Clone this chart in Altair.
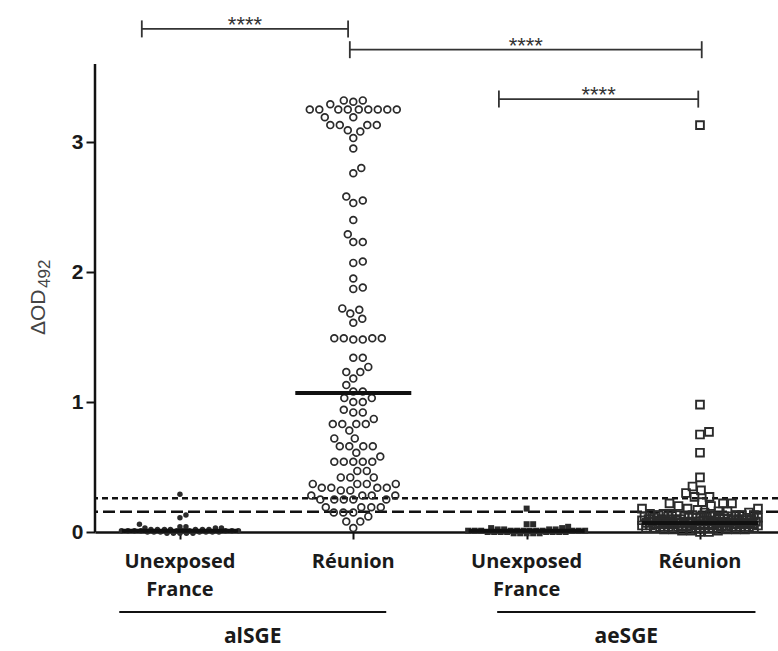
import math
import altair as alt
import pandas as pd

# ---------------- data ----------------
group_names = ["Unexposed France", "Réunion", "Unexposed France", "Réunion"]
group_lines = [["Unexposed", "France"], ["Réunion"], ["Unexposed", "France"], ["Réunion"]]
antigen_names = ["alSGE", "aeSGE"]

alsge_unexposed = [0.29, 0.13, 0.11, 0.06, 0.04, 0.04, 0.03, 0.03, 0.03, 0.02,
                   0.02, 0.02, 0.02, 0.02, 0.02, 0.02, 0.01, 0.01, 0.01, 0.01,
                   0.01, 0.01, 0.01, 0.01, 0.01, 0.01, 0.00, 0.00, 0.00, 0.00,
                   0.00, 0.00, 0.00, -0.01, -0.01, -0.01, -0.01, -0.01]

alsge_reunion = [3.32, 3.32, 3.31, 3.29, 3.25, 3.25, 3.25, 3.25, 3.25, 3.25,
                 3.25, 3.25, 3.25, 3.19, 3.19, 3.13, 3.13, 3.13, 3.13, 3.09,
                 3.08, 3.03, 2.95, 2.80, 2.76, 2.58, 2.55, 2.53, 2.40, 2.29,
                 2.23, 2.23, 2.08, 2.07, 1.95, 1.88, 1.87, 1.72, 1.71, 1.68,
                 1.64, 1.61, 1.49, 1.49, 1.48, 1.49, 1.49, 1.48, 1.34, 1.34,
                 1.27, 1.23, 1.23, 1.18, 1.13, 1.08, 1.08, 1.03, 1.03, 1.00,
                 1.00, 0.94, 0.92, 0.92, 0.87, 0.83, 0.83, 0.83, 0.83, 0.78,
                 0.72, 0.72, 0.66, 0.66, 0.66, 0.66, 0.61, 0.58, 0.54, 0.54,
                 0.54, 0.54, 0.54, 0.47, 0.47, 0.42, 0.42, 0.42, 0.37, 0.37,
                 0.37, 0.37, 0.34, 0.34, 0.34, 0.34, 0.32, 0.32, 0.28, 0.28,
                 0.28, 0.28, 0.25, 0.25, 0.25, 0.25, 0.25, 0.19, 0.19, 0.19,
                 0.19, 0.15, 0.15, 0.15, 0.12, 0.08, 0.08, 0.03]

aesge_unexposed = [0.18, 0.06, 0.06, 0.04, 0.03, 0.03, 0.02, 0.02, 0.02, 0.02,
                   0.01, 0.01, 0.01, 0.01, 0.01, 0.01, 0.01, 0.01, 0.01, 0.01,
                   0.01, 0.01, 0.00, 0.00, 0.00, 0.00, 0.00, 0.00, 0.00, 0.00,
                   -0.01, -0.01, -0.01, -0.01, -0.01]

aesge_reunion = [3.13, 0.98, 0.77, 0.75, 0.61, 0.42, 0.35, 0.32, 0.30, 0.27,
                 0.27, 0.23, 0.22, 0.22, 0.22, 0.20, 0.20, 0.18, 0.18, 0.18,
                 0.17, 0.16, 0.16, 0.15, 0.15, 0.14, 0.14, 0.14,
                 0.13, 0.13, 0.13, 0.13, 0.13, 0.13, 0.13,
                 0.12, 0.12, 0.12, 0.12, 0.12, 0.12, 0.12,
                 0.11, 0.11, 0.11, 0.11, 0.11, 0.11, 0.11,
                 0.10, 0.10, 0.10, 0.10, 0.10, 0.10, 0.10,
                 0.09, 0.09, 0.09, 0.09, 0.09, 0.09, 0.09, 0.09,
                 0.08, 0.08, 0.08, 0.08, 0.08, 0.08, 0.08, 0.08,
                 0.07, 0.07, 0.07, 0.07, 0.07, 0.07, 0.07, 0.07, 0.07,
                 0.06, 0.06, 0.06, 0.06, 0.06, 0.06, 0.06, 0.06, 0.06,
                 0.05, 0.05, 0.05, 0.05, 0.05, 0.05, 0.05, 0.05, 0.05,
                 0.04, 0.04, 0.04, 0.04, 0.04, 0.04, 0.04, 0.04,
                 0.03, 0.03, 0.03, 0.03, 0.03, 0.03,
                 0.02, 0.02, 0.02, 0.02, 0.02,
                 0.01, 0.01, 0.01, 0.00, 0.00]

medians = [0.01, 1.07, 0.01, 0.07]
cutoff_dotted = 0.26
cutoff_dashed = 0.155
significance = ["****", "****", "****"]

# ---------------- layout ----------------
W, H = 683, 520
XDOM = [-0.49, 3.45]
YDOM = [0.0, 4.0]
XPX = W / (XDOM[1] - XDOM[0])
YPX = H / (YDOM[1] - YDOM[0])
INK = "#2b2b2b"


def swarm(values, d, half):
    """simple beeswarm: horizontal offsets (in x units) that avoid overlap"""
    order = sorted(range(len(values)), key=lambda i: values[i])
    cands = [0.0]
    k = 1
    while k * 0.5 <= half:
        cands += [k * 0.5, -k * 0.5]
        k += 1
    placed = []
    offs = [0.0] * len(values)
    for i in order:
        y = values[i] * YPX
        near = [(px, py) for px, py in placed if abs(py - y) < d]
        best, bestd = 0.0, -1.0
        for c in cands:
            md = min((math.hypot(c - px, y - py) for px, py in near), default=1e9)
            if md >= d:
                best = c
                break
            if md > bestd:
                bestd, best = md, c
        placed.append((best, y))
        offs[i] = best / XPX
    return offs


series = [alsge_unexposed, alsge_reunion, aesge_unexposed, aesge_reunion]
spacing = [6.5, 9.5, 6.5, 9.0]
halfw = [60, 50, 60, 58]
frames = []
for g, (vals, d, hw) in enumerate(zip(series, spacing, halfw)):
    offs = swarm(vals, d, hw)
    frames.append(pd.DataFrame({"x": [g + o for o in offs], "y": vals}))

xs = alt.Scale(domain=XDOM, nice=False, zero=False)
ys = alt.Scale(domain=YDOM, nice=False, zero=False)
xaxis = alt.Axis(values=[0, 1, 2, 3], labels=False, ticks=True, tickSize=7,
                 tickWidth=2, tickColor="#111", domainColor="#111",
                 domainWidth=2.5, grid=False, title=None)
yaxis = alt.Axis(values=[0, 1, 2, 3], domain=False, tickSize=9, tickWidth=2,
                 tickColor="#111", labelFont="Liberation Sans", labelFontSize=21,
                 labelFontWeight="bold", labelColor="#1a1a1a", labelPadding=3,
                 grid=False, title=None, format="d")


def X(f="x"):
    return alt.X(f, type="quantitative", scale=xs, axis=xaxis)


def Y(f="y"):
    return alt.Y(f, type="quantitative", scale=ys, axis=yaxis)


layers = []

# reference cut-off lines
layers.append(alt.Chart(pd.DataFrame({"y": [cutoff_dotted]})).mark_rule(
    color="#111", strokeWidth=2.5, strokeDash=[6, 4]).encode(y=Y()))
layers.append(alt.Chart(pd.DataFrame({"y": [cutoff_dashed]})).mark_rule(
    color="#111", strokeWidth=2.5, strokeDash=[12, 5]).encode(y=Y()))

# points
layers.append(alt.Chart(frames[0]).mark_point(
    shape="circle", filled=True, size=30, color=INK, opacity=1).encode(x=X(), y=Y()))
layers.append(alt.Chart(frames[1]).mark_point(
    shape="circle", filled=False, size=46, color=INK, strokeWidth=1.7, opacity=1).encode(x=X(), y=Y()))
layers.append(alt.Chart(frames[2]).mark_point(
    shape="square", filled=True, size=36, color=INK, opacity=1).encode(x=X(), y=Y()))
layers.append(alt.Chart(frames[3]).mark_point(
    shape="square", filled=False, size=60, color=INK, strokeWidth=1.9, opacity=1).encode(x=X(), y=Y()))

# medians
med_half = 58 / XPX
med_df = pd.DataFrame({"x": [g - med_half for g in range(4)],
                       "x2": [g + med_half for g in range(4)],
                       "y": medians})
layers.append(alt.Chart(med_df).mark_rule(color="#111", strokeWidth=4).encode(
    x=X(), x2="x2", y=Y()))

# y axis line (stops below the brackets)
layers.append(alt.Chart(pd.DataFrame({"y": [0.0], "y2": [3.6]})).mark_rule(
    color="#111", strokeWidth=2.5).encode(x=alt.value(0), y=Y(), y2="y2"))

# significance brackets
br = pd.DataFrame({"x": [-0.22, 0.98, 1.84], "x2": [0.97, 3.01, 2.99],
                   "y": [3.87, 3.71, 3.33], "t": significance})
tick_h = 8.5 / YPX
ends = pd.DataFrame({"x": list(br["x"]) + list(br["x2"]),
                     "y": [v - tick_h for v in br["y"]] * 2,
                     "y2": [v + tick_h for v in br["y"]] * 2})
br["xm"] = (br["x"] + br["x2"]) / 2
layers.append(alt.Chart(br).mark_rule(color="#333", strokeWidth=1.8).encode(
    x=X(), x2="x2", y=Y()))
layers.append(alt.Chart(ends).mark_rule(color="#333", strokeWidth=1.8).encode(
    x=X(), y=Y(), y2="y2"))
layers.append(alt.Chart(br).mark_text(
    font="Liberation Sans", fontSize=22, color="#333", baseline="alphabetic",
    align="center", dy=3).encode(x=X("xm"), y=Y(), text="t"))

# category labels
cat_df = pd.DataFrame({"x": [0, 1, 2, 3], "t": group_lines})
layers.append(alt.Chart(cat_df).mark_text(
    font="Open Sans", fontSize=20, fontWeight="bold", color="#1a1a1a",
    baseline="middle", align="center", lineHeight=28).encode(
    x=X(), y=alt.value(550), text="t"))

# antigen group underline + label
grp = pd.DataFrame({"x": [0 - 0.35, 2 - 0.17], "x2": [1 + 0.19, 3 + 0.32],
                    "t": antigen_names})
grp["xm"] = (grp["x"] + grp["x2"]) / 2
layers.append(alt.Chart(grp).mark_rule(color="#111", strokeWidth=2).encode(
    x=X(), x2="x2", y=alt.value(600)))
layers.append(alt.Chart(grp).mark_text(
    font="Open Sans", fontSize=21, fontWeight="bold", color="#1a1a1a",
    baseline="middle", align="center").encode(
    x=X("xm"), y=alt.value(625), text="t"))

# y title: ΔOD with subscript 492
layers.append(alt.Chart(pd.DataFrame({"t": ["ΔOD"]})).mark_text(
    font="Liberation Sans", fontSize=21, color="#444", angle=270,
    align="left", baseline="alphabetic").encode(
    x=alt.value(-50), y=alt.value(323), text="t"))
layers.append(alt.Chart(pd.DataFrame({"t": ["492"]})).mark_text(
    font="Liberation Sans", fontSize=17, color="#444", angle=270,
    align="left", baseline="alphabetic").encode(
    x=alt.value(-45), y=alt.value(276), text="t"))

chart = alt.layer(*layers).properties(
    width=W, height=H,
    autosize=alt.AutoSizeParams(type="none"),
    padding={"left": 95, "top": 12, "right": 0, "bottom": 119},
    background="white",
).configure_view(stroke=None)

chart.save("out.html", embed_options={"renderer": "svg", "actions": False})
